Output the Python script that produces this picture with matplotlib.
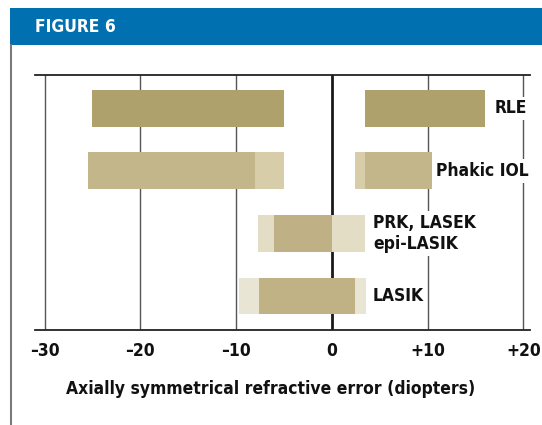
import matplotlib
matplotlib.use("Agg")
import matplotlib.pyplot as plt
from matplotlib.lines import Line2D
from matplotlib.patches import Rectangle

# ---- data ----
rows = ["RLE", "Phakic IOL", "PRK, LASEK\nepi-LASIK", "LASIK"]
row_pos = [3, 2, 1, 0]
main_ranges = [[(-25, -5), (3.5, 16)],
               [(-25.5, -8), (3.5, 10.5)],
               [(-6, 0)],
               [(-7.65, 2.4)]]
ext_ranges = [[],
              [(-8, -5), (2.4, 3.5)],
              [(-7.7, -6), (0, 3.5)],
              [(-9.7, -7.65), (2.4, 3.6)]]
main_colors = ["#AEA16B", "#C2B68A", "#BFB185", "#C1B285"]
ext_colors = [None, "#D7CEA9", "#E3DDC6", "#E9E5D4"]
label_x = [17, 10.9, 4.3, 4.3]
xticks = [-30, -20, -10, 0, 10, 20]
xtick_labels = ["\u201330", "\u201320", "\u201310", "0", "+10", "+20"]
xlabel = "Axially symmetrical refractive error (diopters)"
title = "FIGURE 6"

W, H = 542, 425
fig = plt.figure(figsize=(W / 100, H / 100), dpi=100)
fig.patch.set_facecolor("white")

font = ["DejaVu Sans"]

# header band
fig.patches.append(Rectangle((10 / W, 1 - 44.5 / H), 1 - 10 / W, 36 / H,
                             transform=fig.transFigure, facecolor="#0070B1",
                             edgecolor="none", zorder=0))
fig.text(35 / W, 1 - 27 / H, title, color="white", fontsize=12.5,
         fontweight="bold", family=font, fontstretch="condensed",
         va="center", ha="left")
# left gray rule
fig.lines.append(Line2D([11 / W, 11 / W], [0, 1 - 44.5 / H],
                        transform=fig.transFigure, color="#7a7a7a", lw=1.5))

ax = fig.add_axes([35 / W, 1 - 330 / H, 495 / W, 255 / H])
ax.set_xlim(-31.0, 20.7)
ax.set_ylim(-0.543, 3.532)
ax.set_facecolor("white")

for s in ["left", "right"]:
    ax.spines[s].set_visible(False)
for s in ["top", "bottom"]:
    ax.spines[s].set_color("#222222")
    ax.spines[s].set_linewidth(1.3)

for t in xticks:
    if t == 0:
        ax.axvline(t, color="#1a1a1a", lw=2.0, zorder=0.5)
    else:
        ax.axvline(t, color="#555555", lw=1.0, zorder=0.5)

bar_h = 0.59
for i, y in enumerate(row_pos):
    for (a, b) in ext_ranges[i]:
        ax.barh(y, b - a, left=a, height=bar_h, color=ext_colors[i],
                edgecolor="none", zorder=2)
    for (a, b) in main_ranges[i]:
        ax.barh(y, b - a, left=a, height=bar_h, color=main_colors[i],
                edgecolor="none", zorder=3)
    ax.text(label_x[i], y, rows[i], fontsize=12.5, fontweight="bold",
            family=font, fontstretch="condensed", va="center", ha="left",
            color="#111111", linespacing=1.2, zorder=4,
            bbox=dict(facecolor="white", edgecolor="none", pad=2))

ax.set_yticks([])
ax.set_xticks(xticks)
ax.set_xticklabels(xtick_labels, fontsize=12.5, fontweight="bold",
                   family=font, fontstretch="condensed", color="#111111")
ax.tick_params(axis="x", length=0, pad=9)
ax.set_xlabel(xlabel, fontsize=12.5, fontweight="bold", family=font,
              fontstretch="condensed", color="#111111")
ax.xaxis.set_label_coords(0.476, -0.197)

fig.savefig("out.png", dpi=100, facecolor="white")
